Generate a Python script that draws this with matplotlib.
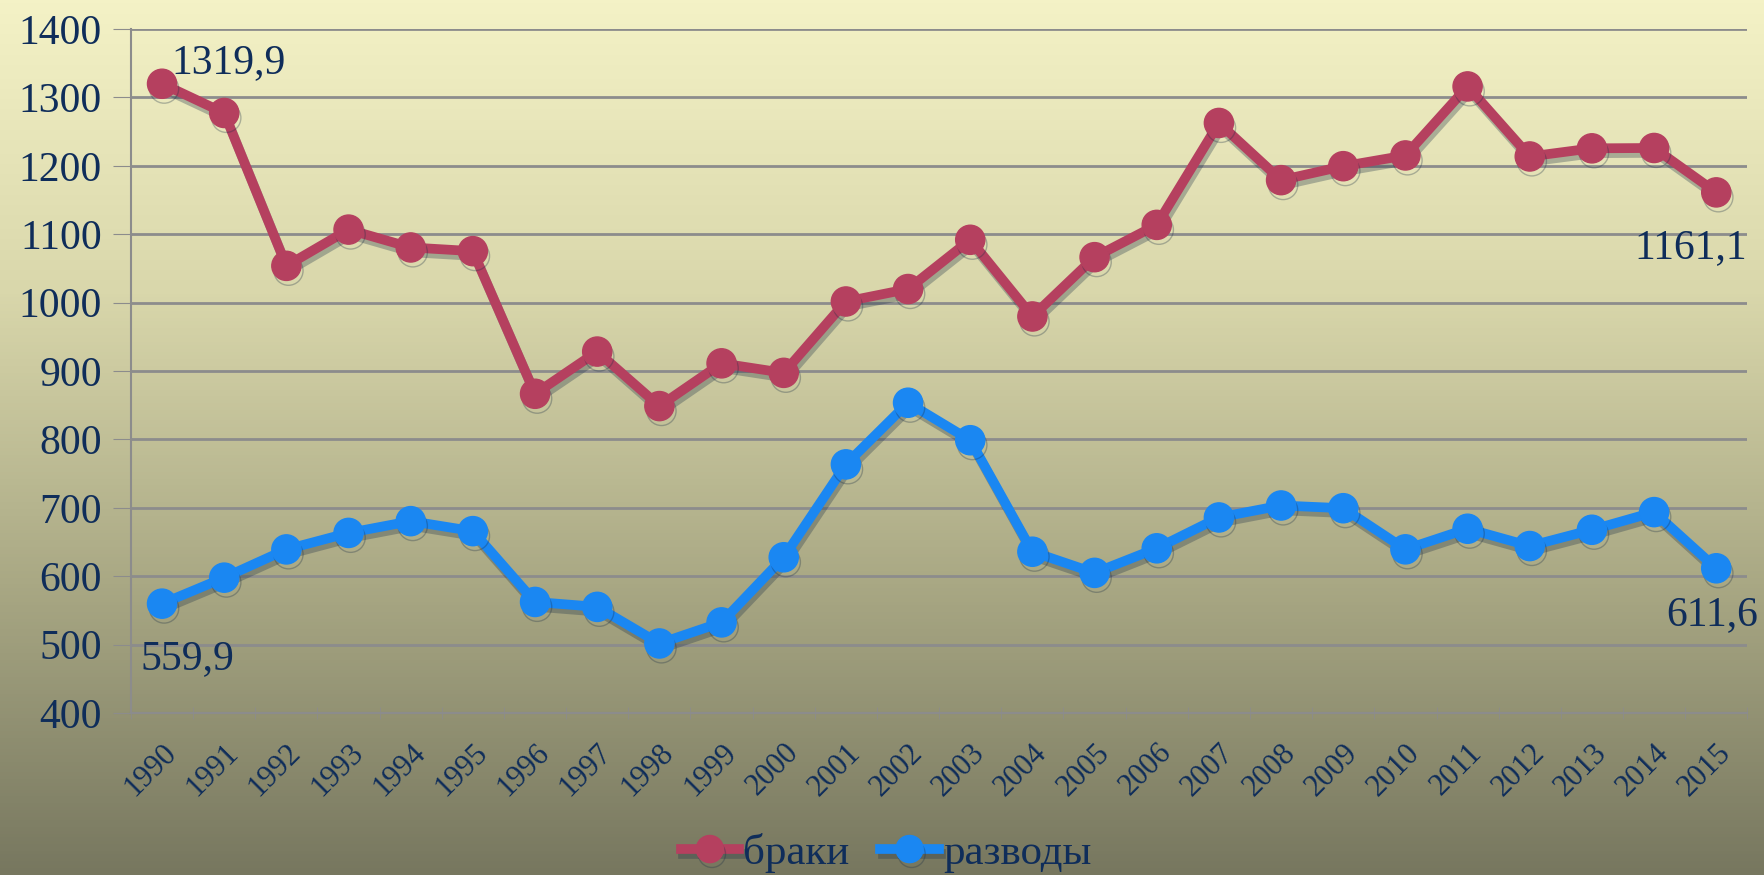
import numpy as np
import matplotlib
matplotlib.use('Agg')
import matplotlib.pyplot as plt
import matplotlib.patheffects as pe
import matplotlib.transforms as mtransforms
from matplotlib.colors import LinearSegmentedColormap

years = [str(y) for y in range(1990, 2016)]
# тыс.
braki = [1319.9, 1277.2, 1053.7, 1106.7, 1080.6, 1075.2, 866.7, 928.4, 848.7, 911.2,
         897.3, 1001.6, 1019.8, 1091.8, 979.7, 1066.4, 1113.6, 1262.6, 1179.0, 1199.4,
         1215.1, 1316.0, 1213.6, 1225.5, 1226.0, 1161.1]
razvody = [559.9, 597.9, 639.2, 663.3, 680.5, 665.9, 562.4, 555.2, 501.7, 532.5,
           627.7, 763.5, 853.6, 798.8, 635.8, 604.9, 640.8, 685.9, 703.4, 699.4,
           639.3, 669.4, 644.1, 667.9, 693.7, 611.6]
yticks = [400, 500, 600, 700, 800, 900, 1000, 1100, 1200, 1300, 1400]

txt_color = '#0f2d5a'
grid_color = '#8c8c8c'
plt.rcParams['font.family'] = ['Liberation Serif', 'DejaVu Serif']

fig = plt.figure(figsize=(17.65, 8.75), dpi=100)

# background gradient
bg = fig.add_axes([0, 0, 1, 1], zorder=-10)
cmap = LinearSegmentedColormap.from_list('bg', ['#f4f2c6', '#d9d7ab', '#a9a884', '#77775f'])
grad = np.linspace(0, 1, 256).reshape(-1, 1)
bg.imshow(grad, aspect='auto', cmap=cmap, extent=[0, 1, 0, 1])
bg.axis('off')

ax = fig.add_axes([0.0742, 0.1851, 0.9158, 0.7818])
ax.patch.set_alpha(0)
x = np.arange(len(years))

shadow = [pe.SimpleLineShadow(offset=(1.5, -3.5), shadow_color='#1b2e45', alpha=0.3), pe.Normal()]
ax.plot(x, braki, color='#b5405f', lw=7, marker='o', ms=21, label='браки',
        path_effects=shadow, zorder=3)
ax.plot(x, razvody, color='#1a87f2', lw=7, marker='o', ms=21, label='разводы',
        path_effects=shadow, zorder=3)

ax.set_xlim(-0.5, len(years) - 0.5)
ax.set_ylim(400, 1400)
ax.set_yticks(yticks)
ax.set_yticklabels([str(v) for v in yticks], fontsize=30, color=txt_color)
ax.set_xticks(x)
ax.set_xticklabels(years, rotation=45, fontsize=22, color=txt_color,
                   ha='right', va='top', rotation_mode='anchor')
shift = mtransforms.ScaledTranslation(-0.09, 0, fig.dpi_scale_trans)
for lbl in ax.get_xticklabels():
    lbl.set_transform(lbl.get_transform() + shift)
ax.set_xticks(np.arange(-0.5, len(years), 1), minor=True)
ax.tick_params(axis='x', which='major', length=0, pad=18)
ax.tick_params(axis='x', which='minor', length=8, color=grid_color, direction='inout')
ax.tick_params(axis='y', length=13, color=grid_color, pad=8)
ax.yaxis.grid(True, color=grid_color, lw=2)
ax.set_axisbelow(True)
for s in ['top', 'right']:
    ax.spines[s].set_visible(False)
for s in ['left', 'bottom']:
    ax.spines[s].set_color(grid_color)
    ax.spines[s].set_linewidth(1.5)

# data labels
ax.annotate('1319,9', (x[0], braki[0]), xytext=(7, 1), textcoords='offset points',
            ha='left', va='bottom', fontsize=30, color=txt_color)
ax.annotate('1161,1', (x[-1], braki[-1]), xytext=(22, -26), textcoords='offset points',
            ha='right', va='top', fontsize=30, color=txt_color)
ax.annotate('559,9', (x[0], razvody[0]), xytext=(18, -26), textcoords='offset points',
            ha='center', va='top', fontsize=30, color=txt_color)
ax.annotate('611,6', (x[-1], razvody[-1]), xytext=(-3, -20), textcoords='offset points',
            ha='center', va='top', fontsize=30, color=txt_color)

leg = fig.legend(loc='center', bbox_to_anchor=(0.502, 0.025), ncol=2, frameon=False,
                 fontsize=31, handlelength=1.35, handletextpad=0.1, columnspacing=0.72,
                 markerscale=0.93, labelcolor=txt_color)

fig.savefig('out.png', dpi=100)
